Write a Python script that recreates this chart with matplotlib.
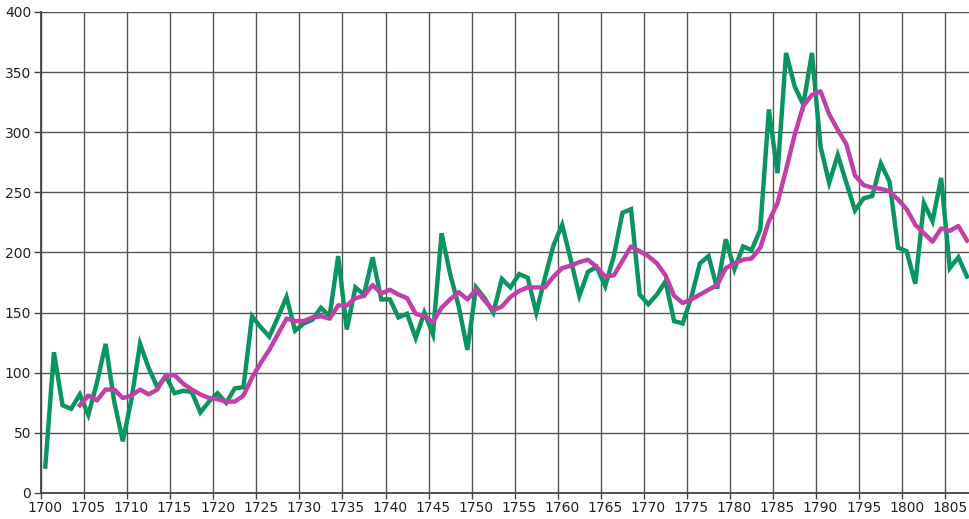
import matplotlib
matplotlib.use("Agg")
import matplotlib.pyplot as plt
import numpy as np

years = list(range(1700, 1808))
annual = [22, 117, 73, 70, 82, 65, 92, 124, 76, 43,
          78, 124, 104, 88, 97, 83, 85, 84, 67, 76,
          83, 75, 87, 88, 147, 138, 130, 146, 163, 135,
          141, 144, 154, 147, 197, 136, 171, 165, 196, 161,
          161, 146, 149, 129, 150, 132, 216, 182, 155, 119,
          171, 162, 150, 178, 171, 182, 179, 150, 179, 206,
          223, 194, 164, 184, 188, 172, 197, 233, 236, 165,
          157, 165, 176, 143, 141, 163, 191, 197, 170, 211,
          186, 205, 202, 219, 319, 266, 366, 338, 323, 366,
          288, 258, 281, 258, 235, 245, 247, 274, 259, 204,
          201, 174, 241, 226, 262, 187, 196, 180]

avg_years = list(range(1704, 1808))
moving_avg = [73, 81, 77, 86, 86, 79, 81, 86, 82, 86,
              98, 98, 91, 86, 82, 79, 78, 76, 76, 81,
              96, 108, 119, 132, 145, 143, 143, 146, 147, 145,
              156, 156, 162, 164, 173, 166, 169, 165, 162, 149,
              147, 142, 154, 161, 167, 161, 169, 160, 152, 155,
              163, 168, 171, 171, 171, 180, 187, 189, 192, 194,
              188, 180, 181, 193, 205, 201, 197, 191, 181, 164,
              158, 161, 165, 169, 173, 187, 191, 194, 195, 204,
              226, 241, 269, 298, 322, 331, 334, 315, 302, 290,
              264, 256, 254, 253, 251, 244, 236, 223, 216, 209,
              220, 218, 222, 210]

x_labels = [str(y) for y in range(1700, 1806, 5)]
y_ticks = [0, 50, 100, 150, 200, 250, 300, 350, 400]

fig = plt.figure(figsize=(9.7, 5.19), dpi=100)
ax = fig.add_axes([41/970, 1 - 493/519, 1 - 41/970, (493 - 12)/519])
plt.rcParams['font.family'] = ['Liberation Sans', 'DejaVu Sans']

# category-centred positions
xa = np.array(years) + 0.5
xm = np.array(avg_years) + 0.5

ax.plot(xa, annual, color='#0a9560', lw=3.2, solid_joinstyle='miter', zorder=3)
ax.plot(xm, moving_avg, color='#c040a8', lw=3.2, solid_joinstyle='round', zorder=4)

ax.set_xlim(1700, 1807.85)
ax.set_ylim(0, 400)

grid_x = list(range(1700, 1806, 5))
ax.set_xticks(grid_x)
ax.set_xticks([int(s) + 0.5 for s in x_labels], minor=True)
ax.set_xticklabels([])
ax.set_xticklabels(x_labels, minor=True)
ax.tick_params(axis='x', which='major', length=4, width=1, color='#444')
ax.tick_params(axis='x', which='minor', length=0, pad=6, labelsize=10, labelcolor='#222')

ax.set_yticks(y_ticks)
ax.set_yticklabels([str(v) for v in y_ticks])
ax.tick_params(axis='y', length=5, width=1, color='#444', pad=2, labelsize=10, labelcolor='#222')

ax.grid(True, which='major', color='#555555', lw=1.0, zorder=1)
for s in ['top', 'right']:
    ax.spines[s].set_visible(False)
ax.spines['left'].set_color('#444')
ax.spines['bottom'].set_color('#444')
ax.spines['left'].set_linewidth(1.3)
ax.spines['bottom'].set_linewidth(1.3)
ax.set_axisbelow(True)

fig.savefig('out.png', dpi=100)
